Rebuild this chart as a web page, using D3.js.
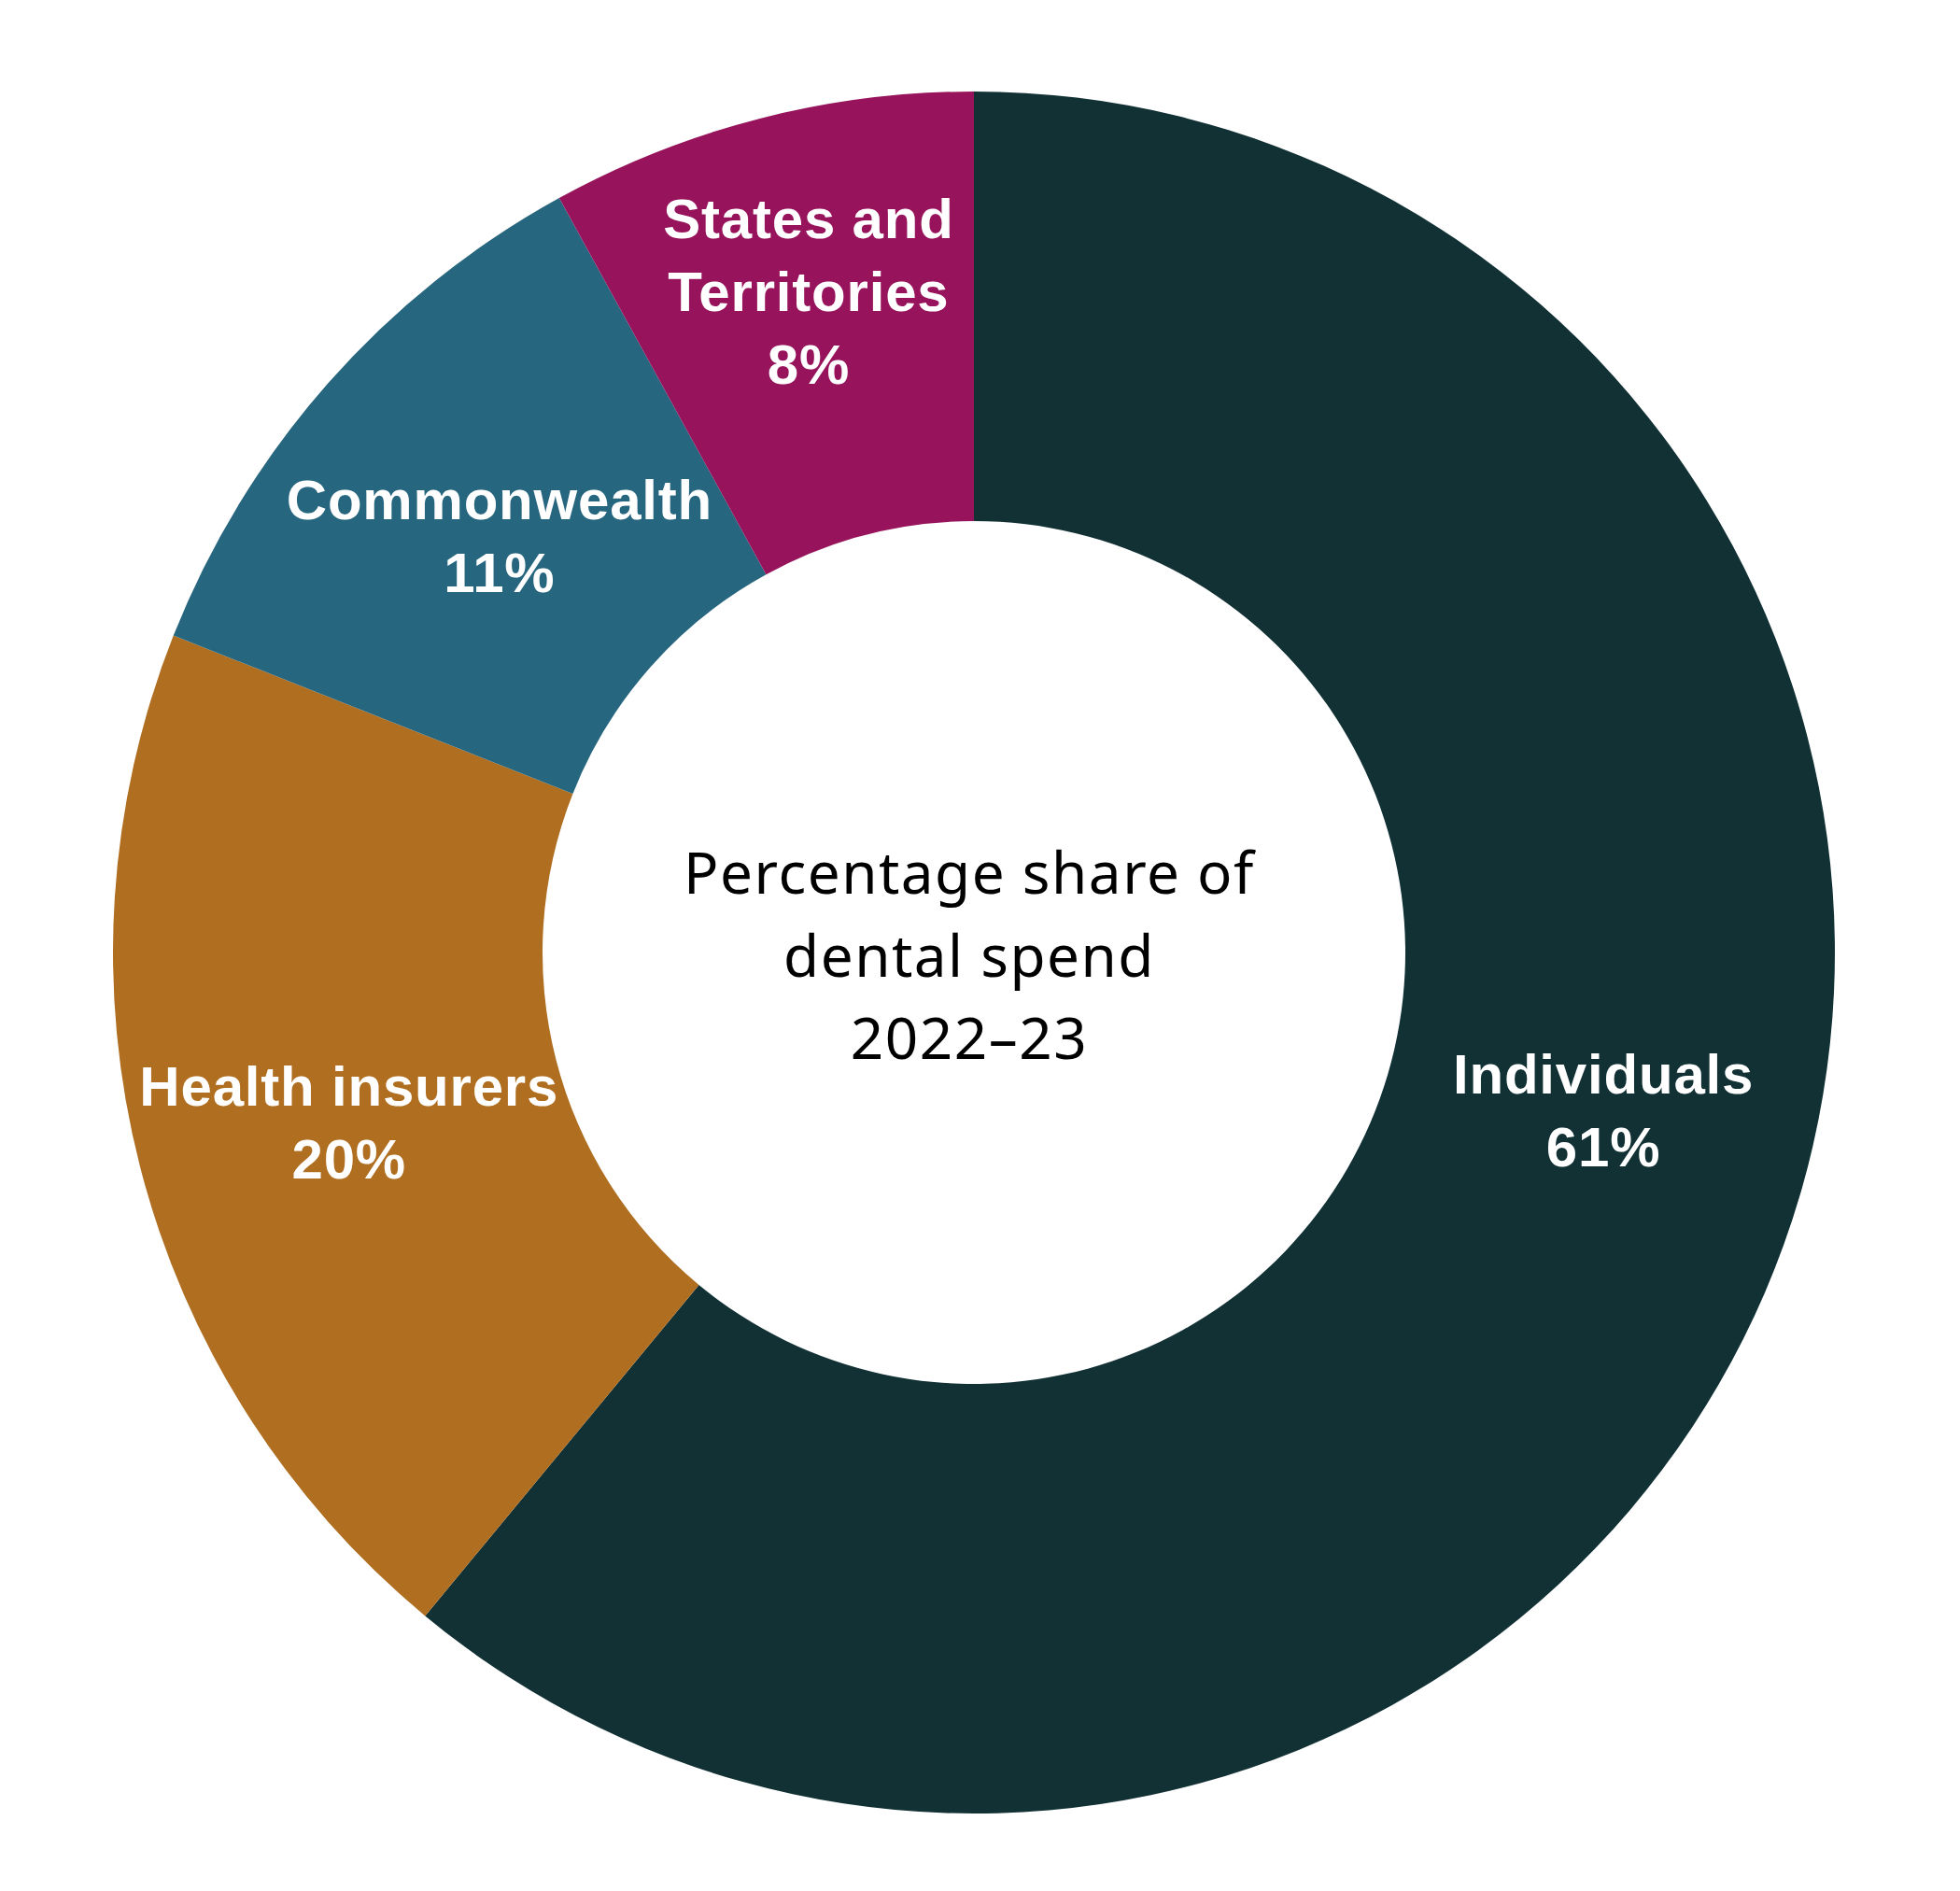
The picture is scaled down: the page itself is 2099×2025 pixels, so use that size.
<!DOCTYPE html>
<html>
<head>
<meta charset="utf-8">
<script src="https://cdn.jsdelivr.net/npm/d3@7"></script>
<style>
  html, body { margin: 0; padding: 0; background: #ffffff; }
  svg { display: block; }
</style>
</head>
<body>
<div id="chart"></div>
<script>
// ---- Data ----
const categories = ["Individuals", "Health insurers", "Commonwealth", "States and Territories"];
const labelLines = [["Individuals"], ["Health insurers"], ["Commonwealth"], ["States and", "Territories"]];
const shares = [61, 20, 11, 8];
const colours = ["#123135", "#B06E20", "#27667F", "#97145C"];
const centreTitle = ["Percentage share of", "dental spend", "2022\u201323"];

// ---- Layout ----
const W = 2099, H = 2025;
const cx = 1043, cy = 1020;
const outerR = 922, innerR = 462;

const svg = d3.select("#chart").append("svg")
  .attr("width", W).attr("height", H)
  .attr("viewBox", [0, 0, W, H]);

const g = svg.append("g").attr("transform", `translate(${cx},${cy})`);

const data = categories.map((c, i) => ({ name: c, value: shares[i], lines: labelLines[i], colour: colours[i] }));

const pie = d3.pie().value(d => d.value).sort(null).startAngle(0).endAngle(2 * Math.PI);
const arc = d3.arc().innerRadius(innerR).outerRadius(outerR);
const arcs = pie(data);

g.selectAll("path.slice")
  .data(arcs)
  .join("path")
  .attr("class", "slice")
  .attr("d", arc)
  .attr("fill", d => d.data.colour);

// label nudges relative to the arc centroid (layout only)
const nudges = {
  "Individuals": [23, -66],
  "Health insurers": [1, 9],
  "Commonwealth": [11, 11],
  "States and Territories": [-5, -38]
};
const lineGap = 78, capH = 43;

const labels = g.selectAll("g.lbl")
  .data(arcs)
  .join("g")
  .attr("class", "lbl")
  .attr("transform", d => {
    const [x, y] = arc.centroid(d);
    const [dx, dy] = nudges[d.data.name];
    const lines = d.data.lines.length + 1;
    const firstBase = y - (lines - 1) * lineGap / 2 + capH / 2;
    return `translate(${x + dx},${firstBase + dy})`;
  });

labels.each(function(d) {
  const t = d3.select(this).append("text")
    .attr("text-anchor", "middle")
    .attr("fill", "#ffffff")
    .style("font-family", "'Liberation Sans', Arial, sans-serif")
    .style("font-weight", "700")
    .style("font-size", "60px")
    .style("letter-spacing", "0.8px");
  const all = d.data.lines.concat([d3.format("d")(d.data.value) + "%"]);
  all.forEach((ln, i) => {
    t.append("tspan").attr("x", 0).attr("y", i * lineGap).text(ln);
  });
});

// centre title
const ct = svg.append("text")
  .attr("text-anchor", "middle")
  .attr("fill", "#000000")
  .style("font-family", "'Noto Sans', sans-serif")
  .style("font-size", "62px")
  .style("letter-spacing", "1.5px");
centreTitle.forEach((ln, i) => {
  ct.append("tspan").attr("x", 1038).attr("y", 957 + i * 88.5).text(ln);
});
</script>
</body>
</html>
